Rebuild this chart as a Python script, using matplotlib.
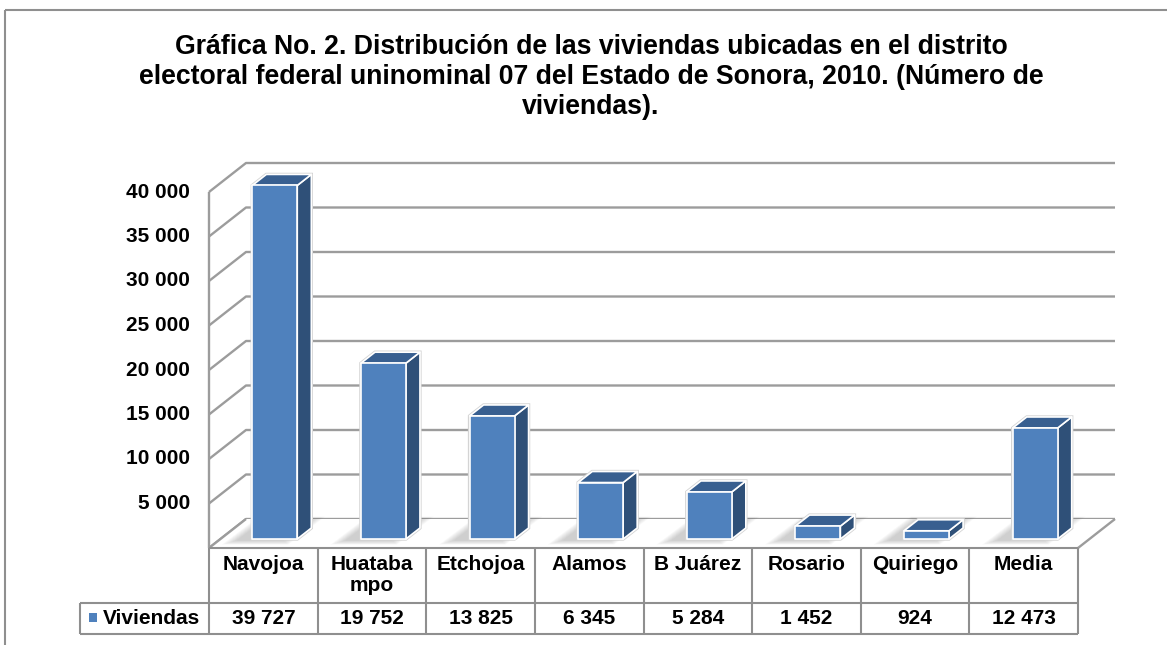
import matplotlib
matplotlib.use("Agg")
import matplotlib.pyplot as plt
from matplotlib.patches import Polygon
from matplotlib.lines import Line2D
from matplotlib.transforms import IdentityTransform
import numpy as np

# ---- data -------------------------------------------------------------
categories = ["Navojoa", "Huatabampo", "Etchojoa", "Alamos",
              "B Juárez", "Rosario", "Quiriego", "Media"]
category_labels = ["Navojoa", "Huataba\nmpo", "Etchojoa", "Alamos",
                   "B Juárez", "Rosario", "Quiriego", "Media"]
viviendas = [39727, 19752, 13825, 6345, 5284, 1452, 924, 12473]
series_name = "Viviendas"
y_ticks = [5000, 10000, 15000, 20000, 25000, 30000, 35000, 40000]
title_lines = [
    "Gráfica No. 2. Distribución de las viviendas ubicadas en el distrito",
    "electoral federal uninominal 07 del Estado de Sonora, 2010. (Número de",
    "viviendas).",
]

# ---- style --------------------------------------------------------------
FONT = "Liberation Sans"
FRONT = "#4F81BD"
SIDE = "#2F5078"
TOP = "#385F90"
GRID = "#9c9c9c"
TABLE = "#8f8f8f"

W, H = 1167, 645
fig = plt.figure(figsize=(W / 100, H / 100), dpi=100)
fig.patch.set_facecolor("white")

# front plane of the 3-D plot (pixel positions, origin top-left)
PL, PR, PB, PT = 209, 1078, 548, 192
DX, DY = 37, 29          # full depth offset in pixels
ax = fig.add_axes([PL / W, (H - PB) / H, (PR - PL) / W, (PB - PT) / H])
ax.set_xlim(0, len(categories))
ax.set_ylim(0, 40000)
ax.axis("off")

IDT = IdentityTransform()


def proj(x, v, d):
    p = ax.transData.transform((x, v))
    return (p[0] + d * DX, p[1] + d * DY)


def pix(px, py):
    return (px, H - py)


def line(pts, color, lw, z):
    xs, ys = zip(*pts)
    ax.add_line(Line2D(xs, ys, color=color, lw=lw, transform=IDT,
                       clip_on=False, zorder=z, solid_capstyle="butt"))


def poly(pts, z, **kw):
    p = Polygon(pts, closed=True, transform=IDT, clip_on=False, zorder=z, **kw)
    ax.add_patch(p)
    return p


n = len(categories)

# ---- outer frame --------------------------------------------------------
line([pix(5, 10), pix(W, 10)], TABLE, 1.5, 1)
line([pix(5, 10), pix(5, H)], TABLE, 1.5, 1)

# ---- back wall and left wall -------------------------------------------
levels = [0] + y_ticks
for v in levels:
    line([proj(0, v, 0), proj(0, v, 1), proj(n, v, 1)], GRID, 1.7, 2)
line([proj(0, 0, 0), proj(0, 40000, 0)], GRID, 1.7, 2)

# ---- floor --------------------------------------------------------------
floor_pts = [proj(0, 0, 0), proj(n, 0, 0), proj(n, 0, 1), proj(0, 0, 1)]
floor = poly(floor_pts, 3, facecolor="white", edgecolor="none")
line([proj(n, 0, 0), proj(n, 0, 1)], GRID, 1.7, 3.5)
line([proj(0, 0, 0), proj(0, 0, 1)], GRID, 1.7, 3.5)

bw = 0.414
d0, d1 = 0.31, 0.69

# soft shadows on the floor, falling to the left of each bar
for i, v in enumerate(viviendas):
    x0 = i + 0.5 - bw / 2
    x1 = i + 0.5 + bw / 2
    base = np.array([proj(x0, 0, d0 - 0.05), proj(x1, 0, d0 - 0.05),
                     proj(x1, 0, d1 + 0.25), proj(x0, 0, d1 + 0.25)])
    cx, cy = base.mean(axis=0)
    for k in range(8):
        pts = (base - [cx, cy]) * [1.05 + 0.06 * k, 1 + 0.06 * k] + [cx - 12, cy]
        sp = poly(pts, 3.2, facecolor="#5a5a5a", edgecolor="none", alpha=0.04)
        sp.set_clip_path(floor)

# ---- bars ---------------------------------------------------------------
for i, v in enumerate(viviendas):
    x0 = i + 0.5 - bw / 2
    x1 = i + 0.5 + bw / 2
    front = [proj(x0, 0, d0), proj(x1, 0, d0), proj(x1, v, d0), proj(x0, v, d0)]
    side = [proj(x1, 0, d0), proj(x1, 0, d1), proj(x1, v, d1), proj(x1, v, d0)]
    top = [proj(x0, v, d0), proj(x1, v, d0), proj(x1, v, d1), proj(x0, v, d1)]
    outline = [proj(x0, 0, d0), proj(x1, 0, d0), proj(x1, 0, d1),
               proj(x1, v, d1), proj(x0, v, d1), proj(x0, v, d0)]
    poly(outline, 4, facecolor="none", edgecolor="#d4d4d4", lw=2.4)
    poly(side, 5, facecolor=SIDE, edgecolor="white", lw=1.2, joinstyle="round")
    poly(top, 5, facecolor=TOP, edgecolor="white", lw=1.2, joinstyle="round")
    poly(front, 5, facecolor=FRONT, edgecolor="white", lw=1.2, joinstyle="round")

# ---- y tick labels ------------------------------------------------------
for v in y_ticks:
    x, y = proj(0, v, 0)
    ax.text(x - 19, y, f"{v:,}".replace(",", " "), transform=IDT,
            ha="right", va="center", fontsize=15, fontweight="bold",
            family=FONT, color="black", zorder=6)

# ---- data table ---------------------------------------------------------
ROW1_TOP, ROW2_TOP, ROW2_BOT = 548, 603, 634
LEG_L = 80
xb = [ax.transData.transform((k, 0))[0] for k in range(n + 1)]
line([pix(xb[0], ROW1_TOP), pix(xb[-1], ROW1_TOP)], TABLE, 1.5, 6)
line([pix(LEG_L, ROW2_TOP), pix(xb[-1], ROW2_TOP)], TABLE, 1.5, 6)
line([pix(LEG_L, ROW2_BOT), pix(xb[-1], ROW2_BOT)], TABLE, 1.5, 6)
line([pix(LEG_L, ROW2_TOP), pix(LEG_L, ROW2_BOT)], TABLE, 1.5, 6)
for xv in xb:
    line([pix(xv, ROW1_TOP), pix(xv, ROW2_BOT)], TABLE, 1.5, 6)

for i, (lab, v) in enumerate(zip(category_labels, viviendas)):
    xc = (xb[i] + xb[i + 1]) / 2
    ax.text(xc, H - 555, lab, transform=IDT, ha="center", va="top",
            fontsize=15, fontweight="bold", family=FONT, linespacing=1.12,
            zorder=7)
    ax.text(xc, H - 619, f"{v:,}".replace(",", " "), transform=IDT,
            ha="center", va="center", fontsize=15, fontweight="bold",
            family=FONT, zorder=7)

poly([pix(89, 613), pix(97, 613), pix(97, 622), pix(89, 622)], 7,
     facecolor=FRONT, edgecolor="none")
ax.text(103, H - 619, series_name, transform=IDT, ha="left", va="center",
        fontsize=15, fontweight="bold", family=FONT, zorder=7)

# ---- title --------------------------------------------------------------
for k, t in enumerate(title_lines):
    fig.text(591 / W, 1 - (47 + 30 * k) / H, t, ha="center", va="center",
             fontsize=19.2, fontweight="bold", family=FONT)

fig.savefig("out.png", dpi=100, facecolor="white")
